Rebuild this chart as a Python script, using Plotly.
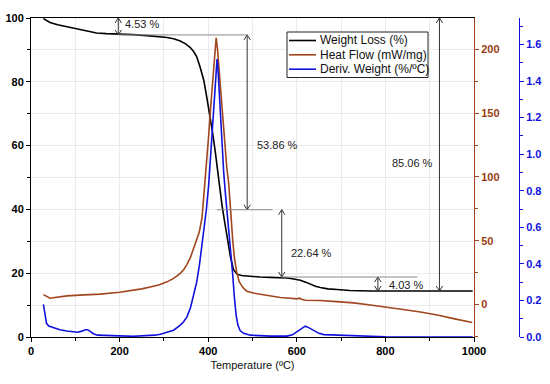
import plotly.graph_objects as go

# ---------------- data ----------------
temp_w = [28, 35, 43, 60, 81, 100, 118, 135, 148, 170, 194, 230, 269, 290, 307, 322,
          337, 349, 359, 367, 374, 382, 390, 397, 405, 410, 416, 421, 426, 431, 436,
          442, 450, 457, 465, 475, 487, 517, 540, 563, 578, 593, 608, 620, 630, 642,
          653, 670, 691, 720, 766, 800, 900, 997]
weight = [99.8, 99.3, 98.6, 97.9, 97.3, 96.7, 96.1, 95.6, 95.3, 95.1, 95.0, 94.8, 94.4,
          94.2, 93.9, 93.5, 92.8, 91.9, 90.8, 89.5, 87.9, 84.5, 80.5, 75.0, 69.0, 64.0,
          58.0, 52.0, 46.0, 41.5, 37.0, 31.5, 25.3, 21.2, 19.7, 19.3, 19.1, 18.8, 18.7,
          18.6, 18.5, 18.2, 17.8, 17.2, 16.5, 15.9, 15.5, 15.1, 14.9, 14.6, 14.4, 14.4,
          14.4, 14.4]

temp_h = [28, 36, 43, 50, 65, 81, 120, 156, 200, 231, 250, 269, 290, 307, 322, 337, 345,
          352, 360, 367, 374, 380, 386, 389, 393, 397, 401, 405, 409, 413, 416, 418, 421,
          425, 429, 433, 437, 442, 446, 448, 451, 455, 459, 464, 470, 478, 487, 502, 517,
          540, 563, 585, 600, 606, 612, 620, 653, 690, 728, 766, 804, 840, 879, 920, 954,
          996]
heat = [7.8, 6.0, 5.0, 5.4, 6.2, 6.8, 7.6, 8.2, 9.7, 11.2, 12.3, 13.8, 15.5, 17.8, 20.5,
        24.5, 27.5, 31.5, 37.0, 44.0, 51.0, 57.0, 68.0, 80.0, 95.0, 112.0, 132.0, 152.0,
        172.0, 192.0, 204.0, 209.0, 200.0, 182.0, 162.0, 142.0, 125.0, 107.0, 96.0, 88.0,
        72.0, 52.0, 37.0, 26.0, 18.0, 13.5, 10.5, 9.0, 8.0, 6.5, 5.5, 5.0, 4.5, 5.0, 4.0,
        3.4, 3.2, 2.3, 1.3, -0.3, -1.9, -3.8, -5.8, -8.3, -11.0, -14.1]

temp_d = [28, 30, 32, 35, 40, 50, 65, 81, 95, 105, 115, 122, 128, 135, 141, 150, 170, 200,
          231, 260, 280, 292, 307, 322, 337, 345, 352, 360, 367, 374, 380, 386, 391, 396,
          401, 405, 410, 414, 418, 420, 422, 425, 428, 431, 435, 439, 443, 447, 451, 455,
          459, 463, 467, 472, 480, 495, 540, 578, 590, 600, 610, 619, 628, 638, 650, 661,
          700, 728, 766, 800, 900, 997]
deriv = [0.178, 0.15, 0.12, 0.075, 0.06, 0.052, 0.04, 0.033, 0.027, 0.026, 0.032, 0.04,
         0.04, 0.03, 0.018, 0.01, 0.007, 0.006, 0.004, 0.006, 0.01, 0.015, 0.024, 0.037,
         0.065, 0.085, 0.11, 0.16, 0.23, 0.30, 0.39, 0.50, 0.60, 0.70, 0.83, 0.98, 1.17,
         1.32, 1.46, 1.52, 1.47, 1.33, 1.18, 1.03, 0.90, 0.78, 0.68, 0.58, 0.47, 0.35,
         0.22, 0.12, 0.065, 0.035, 0.02, 0.01, 0.005, 0.005, 0.012, 0.027, 0.045, 0.059,
         0.05, 0.037, 0.02, 0.013, 0.01, 0.009, 0.003, 0.001, 0.0, 0.0]

x_ticks = [0, 200, 400, 600, 800, 1000]
w_ticks = [0, 20, 40, 60, 80, 100]
h_ticks = [0, 50, 100, 150, 200]
d_ticks = [0.0, 0.2, 0.4, 0.6, 0.8, 1.0, 1.2, 1.4, 1.6]

series_names = ["Weight Loss (%)", "Heat Flow (mW/mg)", "Deriv. Weight (%/ºC)"]

# mass-loss step annotations
arrow_temp = [197, 488, 566, 783, 922]
arrow_from = [100, 94.7, 39.9, 18.8, 100]
arrow_to = [94.7, 39.9, 18.8, 14.4, 14.4]
step_labels = ["4.53 %", "53.86 %", "22.64 %", "4.03 %", "85.06 %"]
label_temp = [207, 505, 582, 804, 912]
label_w = [98.0, 60.2, 26.3, 16.2, 54.5]
label_anchor = ["left", "left", "left", "left", "right"]
guide_level = [94.7, 39.9, 18.8]
guide_t0 = [197, 420, 565]
guide_t1 = [490, 545, 872]

# ---------------- style ----------------
BLACK = "#000000"
BROWN = "#A0461E"
BROWN_TXT = "#9A3E12"
BLUE = "#1212DD"
FONT = "Liberation Sans, Arial, sans-serif"
series_colors = [BLACK, BROWN, BLUE]

W, H = 550, 384
ML, MR, MT, MB = 31, 31, 18, 47
PW = W - ML - MR
PH = H - MT - MB
x_dom_end = (474 - ML) / PW

fig = go.Figure()
fig.add_trace(go.Scatter(x=temp_w, y=weight, name=series_names[0], mode="lines",
                         line=dict(color=BLACK, width=1.6), yaxis="y"))
fig.add_trace(go.Scatter(x=temp_h, y=heat, name=series_names[1], mode="lines",
                         line=dict(color=BROWN, width=1.6), yaxis="y2"))
fig.add_trace(go.Scatter(x=temp_d, y=deriv, name=series_names[2], mode="lines",
                         line=dict(color=BLUE, width=1.6), yaxis="y3"))

# arrow geometry (pixel sizes converted to data units)
plot_w_px = PW * x_dom_end
dx = 3.2 * 1000 / plot_w_px
dy = 5.0 * 100 / PH

shapes = []
ARROW_C = "#333333"
for t, y0, y1 in zip(arrow_temp, arrow_from, arrow_to):
    shapes.append(dict(type="line", xref="x", yref="y", x0=t, x1=t, y0=y0, y1=y1,
                       line=dict(color=ARROW_C, width=1)))
    top, bot = max(y0, y1), min(y0, y1)
    shapes.append(dict(type="path", xref="x", yref="y",
                       path=f"M {t-dx},{top-dy} L {t},{top} L {t+dx},{top-dy}",
                       line=dict(color=ARROW_C, width=1)))
    shapes.append(dict(type="path", xref="x", yref="y",
                       path=f"M {t-dx},{bot+dy} L {t},{bot} L {t+dx},{bot+dy}",
                       line=dict(color=ARROW_C, width=1)))
for lv, t0, t1 in zip(guide_level, guide_t0, guide_t1):
    shapes.append(dict(type="line", xref="x", yref="y", x0=t0, x1=t1, y0=lv, y1=lv,
                       line=dict(color="#8a8a8a", width=1)))

annotations = []
for t, w, txt, anc in zip(label_temp, label_w, step_labels, label_anchor):
    annotations.append(dict(x=t, y=w, xref="x", yref="y", text=txt, showarrow=False,
                            xanchor=anc, yanchor="middle",
                            font=dict(family=FONT, size=11, color="#222222")))

# custom legend (boxed, compact rows) in paper coordinates
def px_x(p):
    return (p - ML) / PW

def px_y(p):
    return (H - MB - p) / PH

leg_left, leg_right, leg_top, leg_bottom = 287, 428, 32, 77.5
shapes.append(dict(type="rect", xref="paper", yref="paper",
                   x0=px_x(leg_left), x1=px_x(leg_right),
                   y0=px_y(leg_bottom), y1=px_y(leg_top),
                   fillcolor="white", line=dict(color="#222222", width=1), layer="above"))
row_y = [40.5, 54.8, 69.2]
for name, col, ry in zip(series_names, series_colors, row_y):
    shapes.append(dict(type="line", xref="paper", yref="paper",
                       x0=px_x(289), x1=px_x(316), y0=px_y(ry), y1=px_y(ry),
                       line=dict(color=col, width=1.6), layer="above"))
    annotations.append(dict(x=px_x(318), y=px_y(ry), xref="paper", yref="paper",
                            text=name, showarrow=False, xanchor="left", yanchor="middle",
                            font=dict(family=FONT, size=12, color="#111111")))

tickfont_bold = dict(family=FONT, size=11, weight="bold")

fig.update_layout(
    width=W, height=H,
    margin=dict(l=ML, r=MR, t=MT, b=MB, pad=0, autoexpand=False),
    paper_bgcolor="white", plot_bgcolor="white",
    showlegend=False,
    xaxis=dict(domain=[0, x_dom_end], range=[0, 1000], tickvals=x_ticks, automargin=False,
               showline=True, linecolor=BLACK, linewidth=1, mirror=True,
               ticks="outside", ticklen=4, tickcolor=BLACK,
               minor=dict(dtick=100, ticks="outside", ticklen=3, tickcolor=BLACK,
                          showgrid=True, gridcolor="#ebebeb"),
               showgrid=True, gridcolor="#ebebeb", zeroline=False,
               tickfont=dict(color=BLACK, **tickfont_bold),
               title=dict(text="Temperature (ºC)", standoff=5,
                          font=dict(family=FONT, size=11, color="#111111"))),
    yaxis=dict(range=[0, 100], tickvals=w_ticks, automargin=False,
               showline=True, linecolor=BLACK, linewidth=1,
               ticks="outside", ticklen=4, tickcolor=BLACK,
               minor=dict(dtick=10, ticks="outside", ticklen=3, tickcolor=BLACK,
                          showgrid=True, gridcolor="#ebebeb"),
               showgrid=True, gridcolor="#ebebeb", zeroline=False,
               tickfont=dict(color=BLACK, **tickfont_bold)),
    yaxis2=dict(range=[-25.4, 224.5], tickvals=h_ticks, overlaying="y", side="right",
                anchor="x", automargin=False, showline=True, linecolor=BROWN, linewidth=1,
                ticks="outside", ticklen=4, tickcolor=BROWN,
                minor=dict(dtick=25, ticks="outside", ticklen=3, tickcolor=BROWN),
                showgrid=False, zeroline=False,
                tickfont=dict(color=BROWN_TXT, **tickfont_bold)),
    yaxis3=dict(range=[0, 1.745], tickvals=d_ticks, tickformat=".1f", overlaying="y",
                side="right", anchor="free", position=1.0, automargin=False,
                showline=True, linecolor=BLUE, linewidth=1,
                ticks="outside", ticklen=4, tickcolor=BLUE,
                minor=dict(dtick=0.1, ticks="outside", ticklen=3, tickcolor=BLUE),
                showgrid=False, zeroline=False,
                tickfont=dict(color=BLUE, **tickfont_bold)),
    shapes=shapes,
    annotations=annotations,
)

fig.write_html("out.html", config={"displayModeBar": False},
               post_script="document.body.style.margin='0px';document.body.style.overflow='hidden';")
